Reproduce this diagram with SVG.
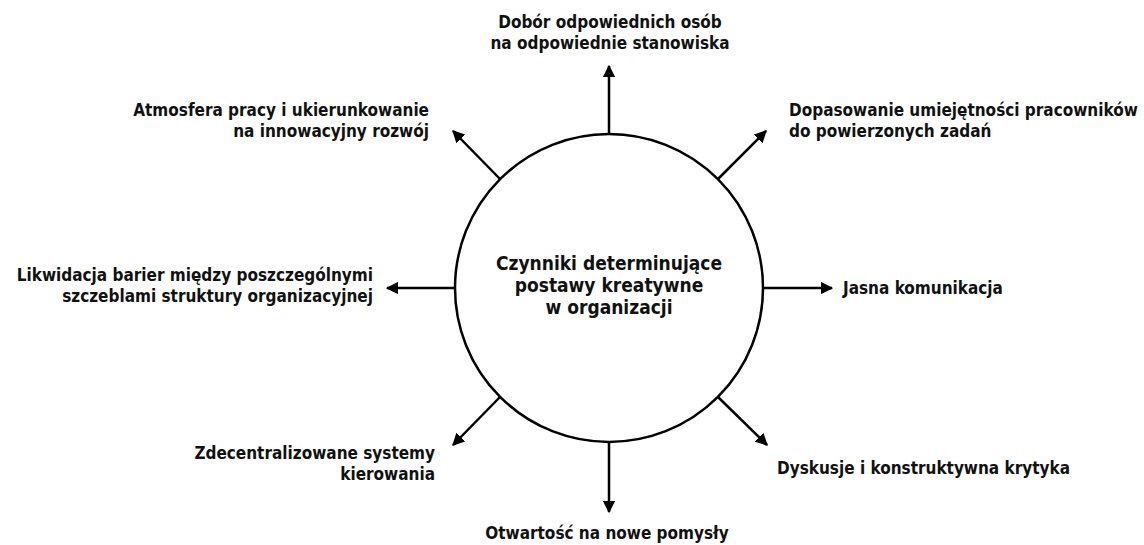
<svg xmlns="http://www.w3.org/2000/svg" width="1144" height="545" viewBox="0 0 1144 545">
<defs>
<style>
text{font-family:"DejaVu Sans Condensed","DejaVu Sans","Liberation Sans",sans-serif;font-stretch:condensed;font-weight:bold;font-size:17px;fill:#111}
.c{font-size:19px}
.mid{text-anchor:middle}
.end{text-anchor:end}
.conn line{stroke:#000;stroke-width:2.5;marker-end:url(#ah)}
</style>
<marker id="ah" viewBox="0 0 10 10" refX="9" refY="5" markerWidth="5" markerHeight="5" orient="auto" markerUnits="strokeWidth">
<path d="M0,0 L10,5 L0,10 z" fill="#000"/>
</marker>
</defs>
<rect width="1144" height="545" fill="#fff"/>
<g id="center">
<circle cx="609" cy="288" r="154" fill="#fff" stroke="#000" stroke-width="2.5"/>
<text class="c mid" x="609" y="270">Czynniki determinujące</text>
<text class="c mid" x="609" y="292">postawy kreatywne</text>
<text class="c mid" x="609" y="314">w organizacji</text>
</g>
<g class="conn" id="connectors">
<line x1="609" y1="134" x2="609" y2="66"/>
<line x1="500" y1="179" x2="453" y2="131"/>
<line x1="718" y1="179" x2="766" y2="131"/>
<line x1="455" y1="288" x2="387" y2="288"/>
<line x1="763" y1="288" x2="832" y2="288"/>
<line x1="500" y1="397" x2="453" y2="445"/>
<line x1="718" y1="397" x2="767" y2="445"/>
<line x1="609" y1="442" x2="609" y2="512"/>
</g>
<g id="n-top">
<text class="mid" x="610" y="28">Dobór odpowiednich osób</text>
<text class="mid" x="610" y="49">na odpowiednie stanowiska</text>
</g>
<g id="n-nw">
<text class="end" x="429" y="116">Atmosfera pracy i ukierunkowanie</text>
<text class="end" x="429" y="137">na innowacyjny rozwój</text>
</g>
<g id="n-ne">
<text x="789" y="116">Dopasowanie umiejętności pracowników</text>
<text x="789" y="137">do powierzonych zadań</text>
</g>
<g id="n-w">
<text class="end" x="373" y="281">Likwidacja barier między poszczególnymi</text>
<text class="end" x="373" y="302">szczeblami struktury organizacyjnej</text>
</g>
<g id="n-e">
<text x="843" y="294">Jasna komunikacja</text>
</g>
<g id="n-sw">
<text class="end" x="435" y="459">Zdecentralizowane systemy</text>
<text class="end" x="435" y="480">kierowania</text>
</g>
<g id="n-se">
<text x="777" y="474">Dyskusje i konstruktywna krytyka</text>
</g>
<g id="n-bottom">
<text class="mid" x="607" y="539">Otwartość na nowe pomysły</text>
</g>
</svg>
